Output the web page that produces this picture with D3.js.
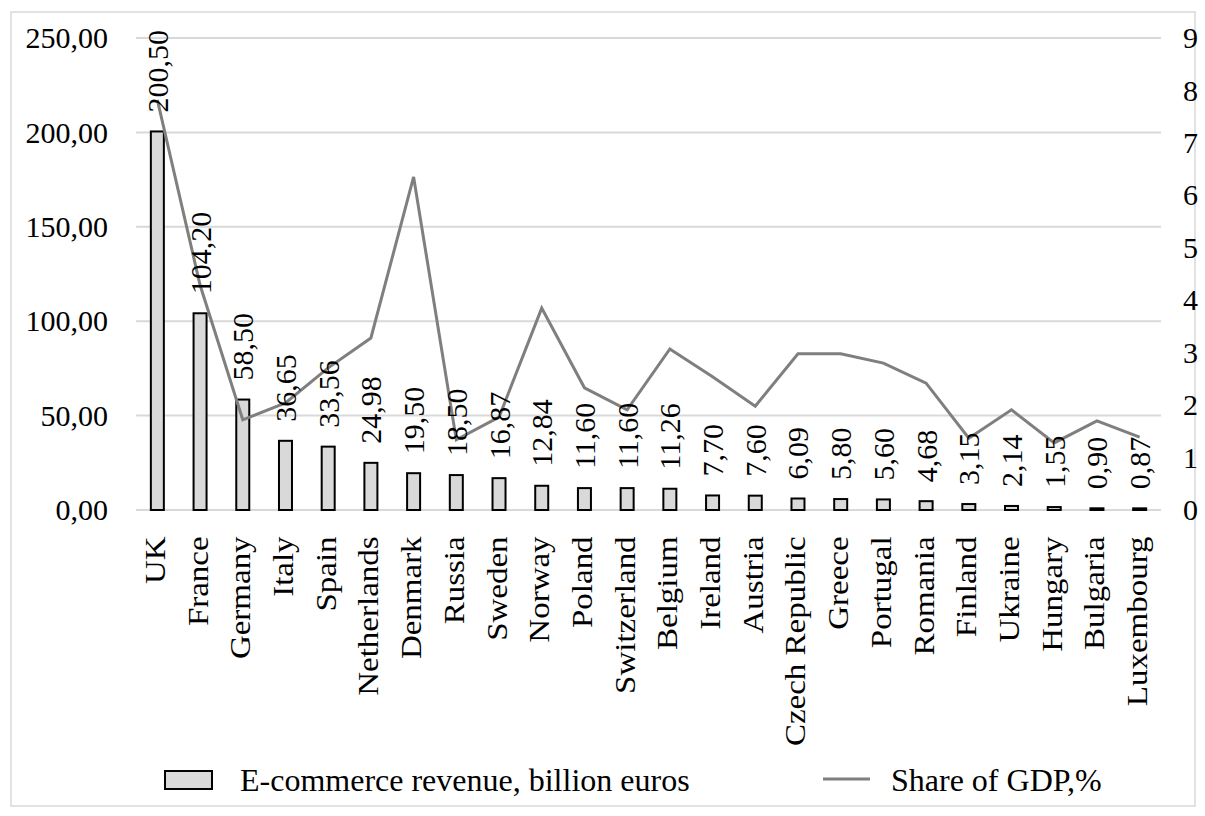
<!DOCTYPE html>
<html>
<head>
<meta charset="utf-8">
<script src="https://cdn.jsdelivr.net/npm/d3@7"></script>
<style>
  body { margin: 0; background: #fff; }
  svg text { font-family: "Liberation Serif", "Times New Roman", serif; fill: #000; }
</style>
</head>
<body>
<div id="chart"></div>
<script>
// Datos
const countries = ['UK','France','Germany','Italy','Spain','Netherlands','Denmark','Russia','Sweden','Norway',
  'Poland','Switzerland','Belgium','Ireland','Austria','Czech Republic','Greece','Portugal','Romania','Finland',
  'Ukraine','Hungary','Bulgaria','Luxembourg'];
const revenue = [200.50,104.20,58.50,36.65,33.56,24.98,19.50,18.50,16.87,12.84,
  11.60,11.60,11.26,7.70,7.60,6.09,5.80,5.60,4.68,3.15,2.14,1.55,0.90,0.87];
const gdpShare = [7.82,4.29,1.72,2.04,2.71,3.28,6.35,1.34,1.77,3.85,
  2.33,1.91,3.07,2.54,1.98,2.98,2.98,2.80,2.42,1.37,1.91,1.28,1.70,1.39];
const leftTicks = [0,50,100,150,200,250];
const rightTicks = [0,1,2,3,4,5,6,7,8,9];
const legendLabels = ['E-commerce revenue, billion euros','Share of GDP,%'];

const W = 1205, H = 816;
const margin = {top: 38, right: 44, bottom: 306, left: 136};
const width = W - margin.left - margin.right,
      height = H - margin.top - margin.bottom;

const fmt = v => d3.format('.2f')(v).replace('.', ',');

let svg = d3.select('#chart').append('svg')
  .attr('width', W).attr('height', H);

// marco exterior
svg.append('rect')
  .attr('x', 11).attr('y', 12).attr('width', 1184).attr('height', 794)
  .attr('fill', 'none').attr('stroke', '#d9d9d9').attr('stroke-width', 1.5);

let g = svg.append('g').attr('transform', 'translate(' + margin.left + ',' + margin.top + ')');

let x = d3.scaleBand().domain(countries).range([0, width]);
let y = d3.scaleLinear().domain([0, 250]).range([height, 0]);
let y2 = d3.scaleLinear().domain([0, 9]).range([height, 0]);

// rejilla
g.append('g').selectAll('line').data(leftTicks).enter().append('line')
  .attr('x1', 0).attr('x2', width)
  .attr('y1', d => y(d)).attr('y2', d => y(d))
  .attr('stroke', '#d9d9d9').attr('stroke-width', 2);

// eje izquierdo
let yAxis = g.append('g').call(d3.axisLeft(y).tickValues(leftTicks).tickFormat(fmt).tickSize(0).tickPadding(28));
yAxis.select('.domain').remove();
yAxis.attr('font-family', null);
yAxis.selectAll('text').attr('font-size', 30);

// eje derecho
let y2Axis = g.append('g').attr('transform', 'translate(' + width + ',0)')
  .call(d3.axisRight(y2).tickValues(rightTicks).tickSize(0).tickPadding(22));
y2Axis.select('.domain').remove();
y2Axis.attr('font-family', null);
y2Axis.selectAll('text').attr('font-size', 30);

// eje x (texto vertical algo alargado, como en el original)
let xAxis = g.append('g').attr('transform', 'translate(0,' + height + ')')
  .call(d3.axisBottom(x).tickSize(0).tickPadding(0));
xAxis.select('.domain').remove();
xAxis.attr('font-family', null);
xAxis.selectAll('text')
  .attr('font-size', 30)
  .attr('transform', 'rotate(-90) scale(1.1,1)')
  .attr('text-anchor', 'end')
  .attr('x', -24).attr('y', -3).attr('dy', '0.35em');

// barras
const barW = 13;
g.append('g').selectAll('rect').data(revenue).enter().append('rect')
  .attr('x', (d, i) => x(countries[i]) + x.bandwidth() / 2 - barW / 2)
  .attr('y', d => y(d))
  .attr('width', barW)
  .attr('height', d => height - y(d))
  .attr('fill', '#d9d9d9').attr('stroke', '#000').attr('stroke-width', 2);

// linea
let line = d3.line()
  .x((d, i) => x(countries[i]) + x.bandwidth() / 2)
  .y(d => y2(d));
g.append('path').datum(gdpShare)
  .attr('d', line)
  .attr('fill', 'none').attr('stroke', '#7f7f7f').attr('stroke-width', 3)
  .attr('stroke-linejoin', 'miter');

// etiquetas de datos
g.append('g').selectAll('text').data(revenue).enter().append('text')
  .attr('transform', (d, i) => 'translate(' + (x(countries[i]) + x.bandwidth() / 2) + ',' + (y(d) - 19) + ') rotate(-90)')
  .attr('dy', '0.35em')
  .attr('font-size', 30)
  .text(d => fmt(d));

// leyenda
let leg = svg.append('g');
leg.append('rect').attr('x', 165).attr('y', 771).attr('width', 47).attr('height', 18)
  .attr('fill', '#d9d9d9').attr('stroke', '#000').attr('stroke-width', 2);
leg.append('text').attr('x', 240).attr('y', 780).attr('dy', '0.35em').attr('font-size', 32).text(legendLabels[0]);
leg.append('line').attr('x1', 823).attr('x2', 870).attr('y1', 779).attr('y2', 779)
  .attr('stroke', '#7f7f7f').attr('stroke-width', 3);
leg.append('text').attr('x', 891).attr('y', 780).attr('dy', '0.35em').attr('font-size', 32).text(legendLabels[1]);
</script>
</body>
</html>
